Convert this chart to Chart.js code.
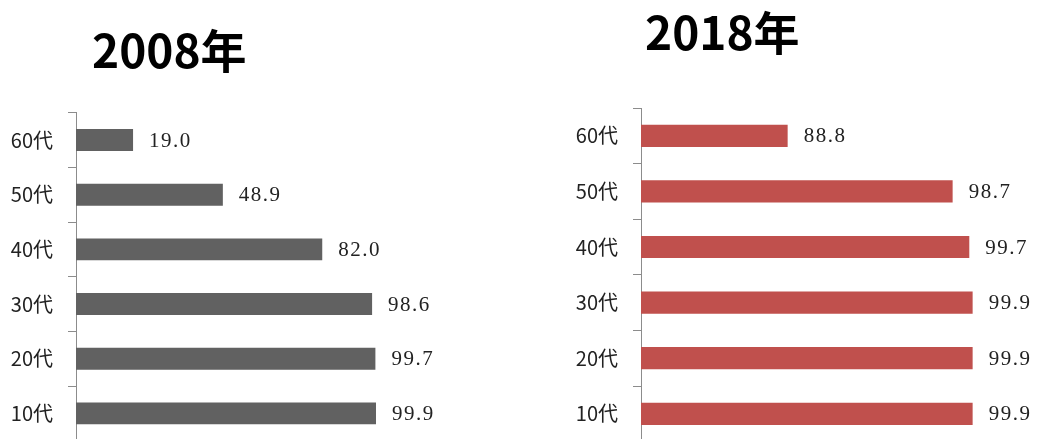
<!DOCTYPE html>
<html>
<head>
<meta charset="utf-8">
<script src="https://cdn.jsdelivr.net/npm/chart.js@4"></script>
<style>
  html, body { margin: 0; padding: 0; background: #fff; overflow: hidden; }
  body { width: 1038px; height: 439px; position: relative; }
  canvas { position: absolute; top: 0; }
  #chart2008 { left: 0; }
  #chart2018 { left: 520px; }
</style>
</head>
<body>
<canvas id="chart2008" width="520" height="445"></canvas>
<canvas id="chart2018" width="518" height="445"></canvas>
<script>
var ageGroups = ['60代', '50代', '40代', '30代', '20代', '10代'];
var rate2008 = [19.0, 48.9, 82.0, 98.6, 99.7, 99.9];
var rate2018 = [88.8, 98.7, 99.7, 99.9, 99.9, 99.9];
var years = ['2008年', '2018年'];

// big year heading above each chart
var headingPlugin = {
    id: 'heading',
    afterDraw: function (chart, args, opts) {
        var ctx = chart.ctx;
        ctx.save();
        ctx.font = 'bold 46px "Noto Sans CJK JP", "Noto Sans", sans-serif';
        ctx.fillStyle = '#000';
        ctx.textAlign = 'left';
        ctx.textBaseline = 'alphabetic';
        ctx.fillText(opts.text, opts.x, opts.y);
        ctx.restore();
    }
};

// value printed to the right of every bar
var valueLabels = {
    id: 'valueLabels',
    afterDatasetsDraw: function (chart) {
        var ctx = chart.ctx;
        var values = chart.data.datasets[0].data;
        ctx.save();
        ctx.font = '21px "Liberation Serif", serif';
        ctx.letterSpacing = '1.5px';
        ctx.fillStyle = '#222';
        ctx.textAlign = 'left';
        ctx.textBaseline = 'middle';
        chart.getDatasetMeta(0).data.forEach(function (bar, i) {
            ctx.fillText(values[i].toFixed(1), bar.x + 16, bar.y + 1);
        });
        ctx.restore();
    }
};

function makeChart(id, values, color, xMin, yWidth, padding, title, titleX, titleY) {
    var ctx = document.getElementById(id).getContext('2d');
    return new Chart(ctx, {
        type: 'bar',
        data: {
            labels: ageGroups,
            datasets: [{
                data: values,
                backgroundColor: color,
                borderWidth: 0,
                barPercentage: 0.4,
                categoryPercentage: 1
            }]
        },
        options: {
            indexAxis: 'y',
            responsive: false,
            animation: false,
            layout: { padding: padding },
            scales: {
                x: { display: false, min: xMin, max: 100 },
                y: {
                    // fixed axis width, and no extra room above/below the first and last label
                    afterFit: function (scale) {
                        scale.width = yWidth;
                        scale.paddingTop = 0;
                        scale.paddingBottom = 0;
                    },
                    border: { display: true, color: '#8c8c8c', width: 1 },
                    grid: {
                        offset: true,
                        drawOnChartArea: false,
                        drawTicks: true,
                        tickLength: 8,
                        color: '#8c8c8c'
                    },
                    ticks: {
                        padding: 15,
                        color: '#222',
                        font: { family: '"Noto Sans CJK JP", "Noto Sans", sans-serif', size: 20 }
                    }
                }
            },
            plugins: {
                legend: { display: false },
                tooltip: { enabled: false },
                heading: { text: title, x: titleX, y: titleY }
            }
        },
        plugins: [headingPlugin, valueLabels]
    });
}

makeChart('chart2008', rate2008, '#616161', 0, 76,
    { left: 0, right: 143.7, top: 112.7, bottom: 4.3 }, years[0], 92, 68);
makeChart('chart2018', rate2018, '#C0504D', 80, 121,
    { left: 0, right: 63.7, top: 108, bottom: 3.4 }, years[1], 125, 50);
</script>
</body>
</html>
